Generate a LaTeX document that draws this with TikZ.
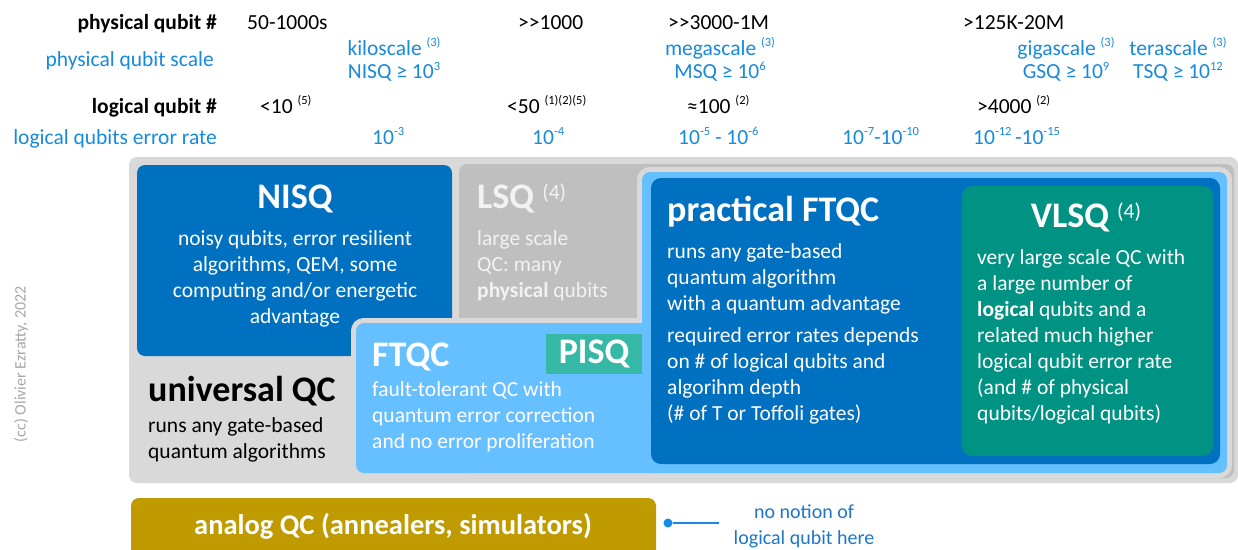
\documentclass[tikz,border=0pt]{standalone}
\usepackage{fontspec}
\setmainfont{Carlito}
\definecolor{qgrayA}{HTML}{D9D9D9}
\definecolor{qgrayB}{HTML}{BFBFBF}
\definecolor{qblue}{HTML}{0070C0}
\definecolor{qlight}{HTML}{66BFFF}
\definecolor{qteal}{HTML}{009383}
\definecolor{qtealL}{HTML}{35B8A5}
\definecolor{qgold}{HTML}{BF9B00}
\definecolor{txtblue}{RGB}{22,138,222}
\definecolor{noteblue}{RGB}{31,118,200}
\definecolor{dotblue}{RGB}{20,140,230}
\definecolor{lsqtxt}{HTML}{F2F2F2}
\definecolor{ccgray}{HTML}{A6A6A6}
\newcommand\supx[1]{\raisebox{0.38em}{\fontsize{12.5}{12.5}\selectfont #1}}
\newcommand\titsup[1]{\raisebox{9pt}{\fontsize{21.5}{26}\selectfont\mdseries #1}}
\newcommand\ltab[1]{\begin{tabular}[t]{@{}l@{}}#1\end{tabular}}
\newcommand\ctab[1]{\begin{tabular}[t]{@{}c@{}}#1\end{tabular}}
\newcommand\dblgt{\textgreater\kern0pt\textgreater}
\begin{document}
\begin{tikzpicture}[x=1pt,y=-1pt,
  lbl/.style={font=\fontsize{21.5}{26}\selectfont, inner sep=0},
  lblb/.style={font=\fontsize{21.5}{26}\selectfont\bfseries, inner sep=0},
  scl/.style={font=\fontsize{21.5}{23}\selectfont, inner sep=0, text=txtblue, anchor=base},
  body/.style={font=\fontsize{21.5}{26}\selectfont, inner sep=0, anchor=base west},
  title/.style={font=\fontsize{36}{40}\selectfont\bfseries, inner sep=0, anchor=base west},
  box/.style={rounded corners=8pt}]
\useasboundingbox (0,0) rectangle (1238,549);

% ---------- header rows ----------
\node[lblb, anchor=base east] (pq) at (217,29) {physical qubit \#};
\node[lbl, anchor=base east, text=txtblue] (pqs) at (214,66) {physical qubit scale};
\node[lblb, anchor=base east] (lq) at (217,113) {logical qubit \#};
\node[lbl, anchor=base east, text=txtblue] (ler) at (217,144) {logical qubits error rate};

\node[lbl, anchor=base west] (pa) at (247,29) {50-1000s};
\node[lbl, anchor=base west] (pb) at (518,29) {\dblgt1000};
\node[lbl, anchor=base west] (pc) at (668,29) {\dblgt3000-1M};
\node[lbl, anchor=base west] (pd) at (963,29) {\textgreater125K-20M};

\node[scl] (sa) at (394,55) {\ctab{kiloscale \supx{(3)}\\NISQ ≥ 10\supx{3}}};
\node[scl] (sb) at (720,55) {\ctab{megascale \supx{(3)}\\MSQ ≥ 10\supx{6}}};
\node[scl] (sc) at (1066,55) {\ctab{gigascale \supx{(3)}\\GSQ ≥ 10\supx{9}}};
\node[scl] (sd) at (1178,55) {\ctab{terascale \supx{(3)}\\TSQ ≥ 10\supx{12}}};

\node[lbl, anchor=base west] (la) at (260,113) {\textless10 \supx{(5)}};
\node[lbl, anchor=base west] (lb) at (507,113) {\textless50 \supx{(1)(2)(5)}};
\node[lbl, anchor=base west] (lc) at (687,113) {≈100 \supx{(2)}};
\node[lbl, anchor=base west] (ld) at (977,113) {\textgreater4000 \supx{(2)}};

\node[lbl, anchor=base west, text=txtblue] (ea) at (372,144) {10\supx{-3}};
\node[lbl, anchor=base west, text=txtblue] (eb) at (532,144) {10\supx{-4}};
\node[lbl, anchor=base west, text=txtblue] (ec) at (678,144) {10\supx{-5} - 10\supx{-6}};
\node[lbl, anchor=base west, text=txtblue] (ed) at (842,144) {10\supx{-7}-10\supx{-10}};
\node[lbl, anchor=base west, text=txtblue] (ee) at (973,144) {10\supx{-12}\,-10\supx{-15}};

% ---------- boxes ----------
\fill[qgrayA, box] (129,157) rectangle (1238,483);
\fill[qblue, box] (137,165) rectangle (452,356);
\fill[qgrayB, box] (459,164) rectangle (1234,478);
\filldraw[qlight, draw=qgrayA, line width=10pt, box] (356,323) rectangle (660,473);
\filldraw[qlight, draw=qgrayA, line width=10pt, box] (642,172) rectangle (1227,473);
\fill[qlight, box] (356,323) rectangle (660,473);
\fill[qlight, box] (642,172) rectangle (1227,473);
\fill[qtealL] (546,334) rectangle (642,374);
\fill[qblue, rounded corners=10pt] (651,178) rectangle (1220,464);
\fill[qteal, rounded corners=10pt] (962,186) rectangle (1213,456);
\fill[qgold, box] (131,498) rectangle (656,562);

% ---------- box texts ----------
\node[title, anchor=base, text=white] (nisqT) at (295,208) {NISQ};
\node[body, anchor=base, text=white] (nisqB) at (295,245)
  {\ctab{noisy qubits, error resilient\\algorithms, QEM, some\\computing and/or energetic\\advantage}};

\node[title, text=lsqtxt] (lsqT) at (477,208) {LSQ \titsup{(4)}};
\node[body, text=lsqtxt] (lsqB) at (477,245) {\ltab{large scale\\QC: many\\\textbf{physical} qubits}};

\node[title] (uqT) at (148,401) {universal QC};
\node[body] (uqB) at (148,432) {\ltab{runs any gate-based\\quantum algorithms}};

\node[title, text=white] (ftT) at (372,366) {FTQC};
\node[body, text=white] (ftB) at (372,396)
  {\ltab{fault-tolerant QC with\\quantum error correction\\and no error proliferation}};
\node[title, anchor=base, text=white] (pisqT) at (594,363) {PISQ};

\node[title, text=white] (pfT) at (667,221) {practical FTQC};
\node[body, text=white] (pfB) at (667,258)
  {\ltab{runs any gate-based\\quantum algorithm\\with a quantum advantage\\[6pt]required error rates depends\\on \# of logical qubits and\\algorihm depth\\(\# of T or Toffoli gates)}};

\node[title, anchor=base, text=white] (vlT) at (1086,227) {VLSQ \titsup{(4)}};
\node[body, text=white] (vlB) at (977,264)
  {\ltab{very large scale QC with\\a large number of\\\textbf{logical} qubits and a\\related much higher\\logical qubit error rate\\(and \# of physical\\qubits/logical qubits)}};

\node[font=\fontsize{28.5}{32}\selectfont\bfseries, inner sep=0, anchor=base, text=white] (anT) at (393,534)
  {analog QC (annealers, simulators)};

% ---------- note ----------
\node[circle, fill=dotblue, inner sep=0, minimum size=9pt] (dot) at (668,523) {};
\coordinate (lineend) at (719,523);
\draw[dotblue, line width=1.2pt] (dot) -- (lineend);
\node[font=\fontsize{20}{26}\selectfont, inner sep=0, anchor=base, text=noteblue] (note) at (804,518)
  {\ctab{no notion of\\logical qubit here}};

\node[font=\fontsize{16}{18}\selectfont, inner sep=0, text=ccgray, rotate=90] (cc) at (21,364)
  {(cc) Olivier Ezratty, 2022};
\end{tikzpicture}
\end{document}
